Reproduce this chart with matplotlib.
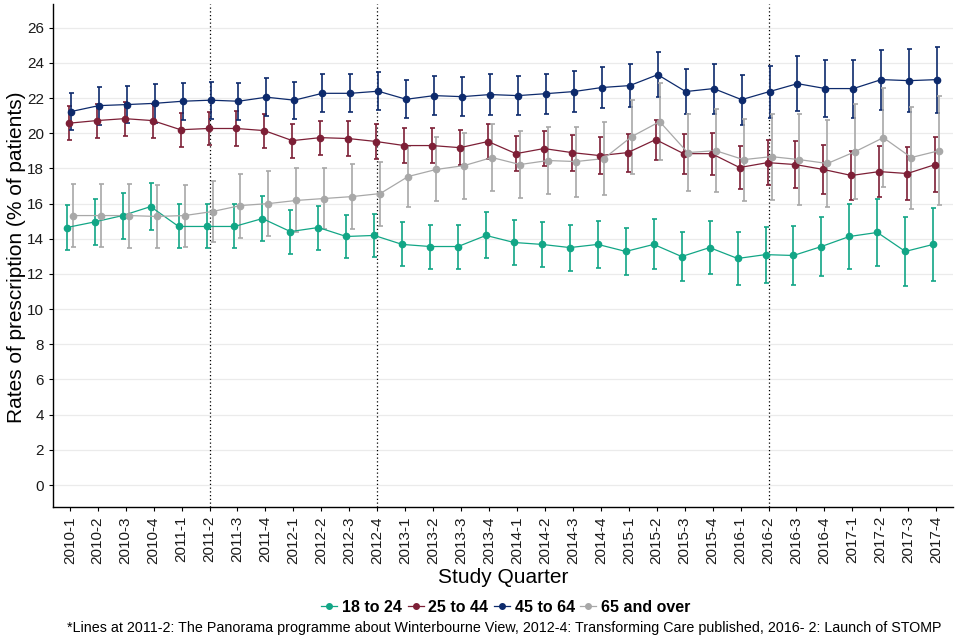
import matplotlib
matplotlib.use("Agg")
import matplotlib.pyplot as plt
import numpy as np
from matplotlib.lines import Line2D

plt.rcParams['font.family'] = ['Liberation Sans', 'DejaVu Sans']

quarters = [f"{y}-{q}" for y in range(2010, 2018) for q in range(1, 5)]

age_groups = ["18 to 24", "25 to 44", "45 to 64", "65 and over"]
colors = ["#12a686", "#7d1f36", "#0d2a6c", "#a8a8a8"]

rate_18_24 = [14.64, 14.96, 15.32, 15.83, 14.70, 14.70, 14.70, 15.15, 14.41, 14.64, 14.13, 14.19,
              13.68, 13.56, 13.56, 14.19, 13.79, 13.68, 13.50, 13.68, 13.28, 13.68, 12.99, 13.50,
              12.88, 13.10, 13.05, 13.56, 14.13, 14.36, 13.28, 13.68]
err_18_24 = [1.28, 1.31, 1.31, 1.34, 1.25, 1.25, 1.25, 1.28, 1.25, 1.25, 1.22, 1.22,
             1.25, 1.25, 1.25, 1.31, 1.28, 1.28, 1.31, 1.34, 1.34, 1.42, 1.39, 1.50,
             1.53, 1.59, 1.68, 1.70, 1.85, 1.93, 1.96, 2.07]

rate_25_44 = [20.57, 20.72, 20.83, 20.72, 20.20, 20.27, 20.27, 20.15, 19.58, 19.75, 19.70, 19.53,
              19.30, 19.30, 19.18, 19.53, 18.84, 19.13, 18.90, 18.73, 18.90, 19.64, 18.84, 18.84,
              18.05, 18.33, 18.22, 17.94, 17.60, 17.82, 17.71, 18.22]
err_25_44 = [0.97, 0.97, 0.97, 0.97, 0.97, 0.94, 0.97, 0.97, 0.97, 0.97, 0.97, 0.97,
             0.97, 0.97, 0.99, 1.00, 0.99, 0.99, 1.02, 1.05, 1.08, 1.14, 1.14, 1.19,
             1.22, 1.28, 1.36, 1.39, 1.39, 1.45, 1.50, 1.56]

rate_45_64 = [21.23, 21.57, 21.63, 21.70, 21.82, 21.88, 21.82, 22.05, 21.88, 22.27, 22.27, 22.39,
              21.93, 22.14, 22.08, 22.20, 22.14, 22.25, 22.37, 22.60, 22.71, 23.33, 22.37, 22.54,
              21.91, 22.37, 22.82, 22.54, 22.54, 23.05, 22.99, 23.05]
err_45_64 = [1.04, 1.08, 1.06, 1.10, 1.05, 1.05, 1.05, 1.08, 1.05, 1.08, 1.08, 1.08,
             1.08, 1.09, 1.12, 1.15, 1.12, 1.14, 1.16, 1.19, 1.22, 1.28, 1.28, 1.42,
             1.42, 1.48, 1.56, 1.62, 1.65, 1.70, 1.79, 1.875]

rate_65 = [15.32, 15.32, 15.32, 15.27, 15.32, 15.55, 15.89, 16.00, 16.18, 16.29, 16.40, 16.57,
           17.54, 17.94, 18.16, 18.62, 18.22, 18.45, 18.39, 18.56, 19.81, 20.66, 18.90, 19.01,
           18.50, 18.67, 18.50, 18.28, 18.96, 19.75, 18.62, 19.01]
err_65 = [1.79, 1.79, 1.82, 1.79, 1.76, 1.76, 1.82, 1.85, 1.82, 1.76, 1.85, 1.82,
          1.76, 1.82, 1.88, 1.93, 1.88, 1.93, 1.99, 2.07, 2.10, 2.20, 2.20, 2.36,
          2.33, 2.44, 2.60, 2.50, 2.70, 2.80, 2.90, 3.10]

event_quarters = ["2011-2", "2012-4", "2016-2"]

rates = [rate_18_24, rate_25_44, rate_45_64, rate_65]
errs = [err_18_24, err_25_44, err_45_64, err_65]
dodge = [-0.107, -0.036, 0.036, 0.107]

fig = plt.figure(figsize=(9.6, 6.4), dpi=100)
ax = fig.add_axes([0.0552, 0.2078, 0.9375, 0.786])

x = np.arange(len(quarters))
ax.set_xlim(-0.6, len(quarters) - 1 + 0.6)
ax.set_ylim(-1.25, 27.35)
ax.set_yticks(np.arange(0, 27, 2))
ax.grid(axis='y', color='#ebebeb', linewidth=0.9)
ax.set_axisbelow(True)

for xq in event_quarters:
    ax.axvline(quarters.index(xq), color='black', linestyle=(0, (1, 2)), linewidth=0.9, zorder=1)

for r, e, c, d in zip(rates, errs, colors, dodge):
    ax.errorbar(x + d, r, yerr=e, fmt='none', ecolor=c, elinewidth=1.2, capsize=1.8, capthick=1.2, zorder=2)
for r, c, d in zip(rates, colors, dodge):
    ax.plot(x + d, r, color=c, linewidth=0.9, zorder=3)
for r, c, d in zip(rates, colors, dodge):
    ax.plot(x + d, r, linestyle='none', marker='o', markersize=4.5, color=c, zorder=4)

ax.set_xticks(x)
ax.set_xticklabels(quarters, rotation=90, fontsize=11, color='#1a1a1a')
ax.tick_params(axis='y', labelsize=11, labelcolor='#1a1a1a', length=3)
ax.tick_params(axis='x', length=3)
for s in ['top', 'right']:
    ax.spines[s].set_visible(False)
for s in ['left', 'bottom']:
    ax.spines[s].set_linewidth(1.0)
    ax.spines[s].set_color('black')

fig.text(17 / 960, 1 - 257 / 640, "Rates of prescription (% of patients)", fontsize=15,
         rotation=90, ha='center', va='center')
fig.text(0.524, 0.098, "Study Quarter", fontsize=15, ha='center', va='center')

handles = [Line2D([0], [0], color=c, linewidth=0.9, marker='o', markersize=4) for c in colors]
fig.legend(handles, age_groups, loc='center', bbox_to_anchor=(0.527, 0.051), ncol=4, frameon=False,
           prop={'size': 11.5, 'weight': 'bold'}, handlelength=1.0, handletextpad=0.3, columnspacing=0.35)

fig.text(0.525, 0.019, "*Lines at 2011-2: The Panorama programme about Winterbourne View, 2012-4: Transforming Care published, 2016- 2: Launch of STOMP",
         fontsize=10.3, ha='center', va='center')

fig.savefig("out.png", dpi=100)
